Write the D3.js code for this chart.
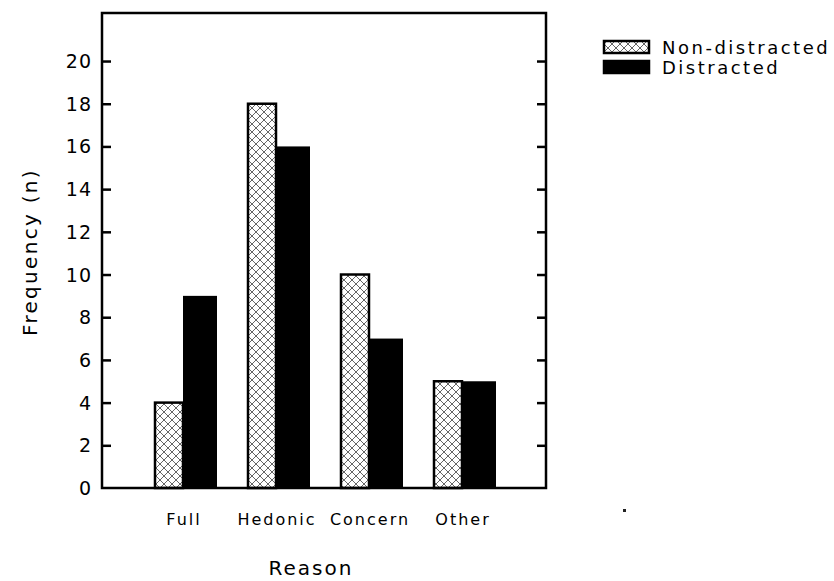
<!DOCTYPE html>
<html>
<head>
<meta charset="utf-8">
<script src="https://cdn.jsdelivr.net/npm/d3@7"></script>
<style>
  body { margin: 0; background: #fff; }
  text { font-family: "DejaVu Sans", sans-serif; fill: #000; }
</style>
</head>
<body>
<svg width="834" height="581"></svg>
<script>
const categories = ['Full', 'Hedonic', 'Concern', 'Other'];
const nonDistracted = [4, 18, 10, 5];
const distracted = [9, 16, 7, 5];
const yTicks = [0, 2, 4, 6, 8, 10, 12, 14, 16, 18, 20];
const seriesNames = ['Non-distracted', 'Distracted'];

const svg = d3.select('svg');
const plotLeft = 102, plotRight = 546, plotTop = 13, plotBottom = 488;

const x = d3.scaleBand()
  .domain(categories)
  .range([136.5, 508.5]);
const y = d3.scaleLinear()
  .domain([0, 22.25])
  .range([plotBottom, plotTop]);

// crosshatch pattern
const defs = svg.append('defs');
const pat = defs.append('pattern')
  .attr('id', 'hatch')
  .attr('patternUnits', 'userSpaceOnUse')
  .attr('width', 8).attr('height', 8);
pat.append('rect').attr('width', 8).attr('height', 8).attr('fill', '#fff');
pat.append('path')
  .attr('d', 'M0,0L8,8M8,0L0,8M-1,7L1,9M7,-1L9,1M-1,1L1,-1M7,9L9,7')
  .attr('stroke', '#666').attr('stroke-width', 1);

const ndW = 28, dW = 34;
const cx = d => x(d) + x.bandwidth() / 2;

// distracted bars
svg.append('g').selectAll('rect')
  .data(categories)
  .enter().append('rect')
  .attr('x', d => cx(d))
  .attr('width', dW)
  .attr('y', (d, i) => y(distracted[i]))
  .attr('height', (d, i) => plotBottom - y(distracted[i]))
  .attr('fill', '#000');

// non-distracted bars
svg.append('g').selectAll('rect')
  .data(categories)
  .enter().append('rect')
  .attr('x', d => cx(d) - ndW)
  .attr('width', ndW)
  .attr('y', (d, i) => y(nonDistracted[i]))
  .attr('height', (d, i) => plotBottom - y(nonDistracted[i]))
  .attr('fill', 'url(#hatch)')
  .attr('stroke', '#000')
  .attr('stroke-width', 2.5);

// frame
svg.append('rect')
  .attr('x', plotLeft).attr('y', plotTop)
  .attr('width', plotRight - plotLeft).attr('height', plotBottom - plotTop)
  .attr('fill', 'none').attr('stroke', '#000').attr('stroke-width', 2.5);

// axes (inward ticks on both sides)
const yAxisL = svg.append('g')
  .attr('transform', `translate(${plotLeft},0)`)
  .call(d3.axisRight(y).tickValues(yTicks.slice(1)).tickSize(9).tickFormat(''));
const yAxisR = svg.append('g')
  .attr('transform', `translate(${plotRight},0)`)
  .call(d3.axisLeft(y).tickValues(yTicks.slice(1)).tickSize(9).tickFormat(''));
[yAxisL, yAxisR].forEach(g => {
  g.select('.domain').remove();
  g.selectAll('line').attr('stroke', '#000').attr('stroke-width', 2.5);
});

svg.append('g').selectAll('text')
  .data(yTicks)
  .enter().append('text')
  .attr('x', 92)
  .attr('y', d => y(d) + 7)
  .attr('text-anchor', 'end')
  .style('font-size', '19px')
  .style('letter-spacing', '1px')
  .text(d => d);

svg.append('g').selectAll('text')
  .data(categories)
  .enter().append('text')
  .attr('x', d => cx(d) + 1)
  .attr('y', 525)
  .attr('text-anchor', 'middle')
  .style('font-size', '16px')
  .style('letter-spacing', '2px')
  .text(d => d);

svg.append('text')
  .attr('x', 311).attr('y', 575)
  .attr('text-anchor', 'middle')
  .style('font-size', '20px')
  .style('letter-spacing', '2px')
  .text('Reason');

svg.append('text')
  .attr('transform', 'translate(37,252) rotate(-90)')
  .attr('text-anchor', 'middle')
  .style('font-size', '20px')
  .style('letter-spacing', '2.3px')
  .text('Frequency (n)');

// legend
const legend = svg.append('g');
legend.selectAll('rect')
  .data(seriesNames)
  .enter().append('rect')
  .attr('x', 604)
  .attr('y', (d, i) => 41 + i * 20)
  .attr('width', 45).attr('height', 12)
  .attr('fill', (d, i) => i === 0 ? 'url(#hatch)' : '#000')
  .attr('stroke', '#000').attr('stroke-width', 2.5);
legend.selectAll('text')
  .data(seriesNames)
  .enter().append('text')
  .attr('x', 662)
  .attr('y', (d, i) => 54 + i * 20)
  .style('font-size', '18px')
  .style('letter-spacing', '2.5px')
  .text(d => d);

// stray dot
svg.append('rect')
  .attr('x', 623).attr('y', 509).attr('width', 3).attr('height', 3).attr('fill', '#222');
</script>
</body>
</html>
